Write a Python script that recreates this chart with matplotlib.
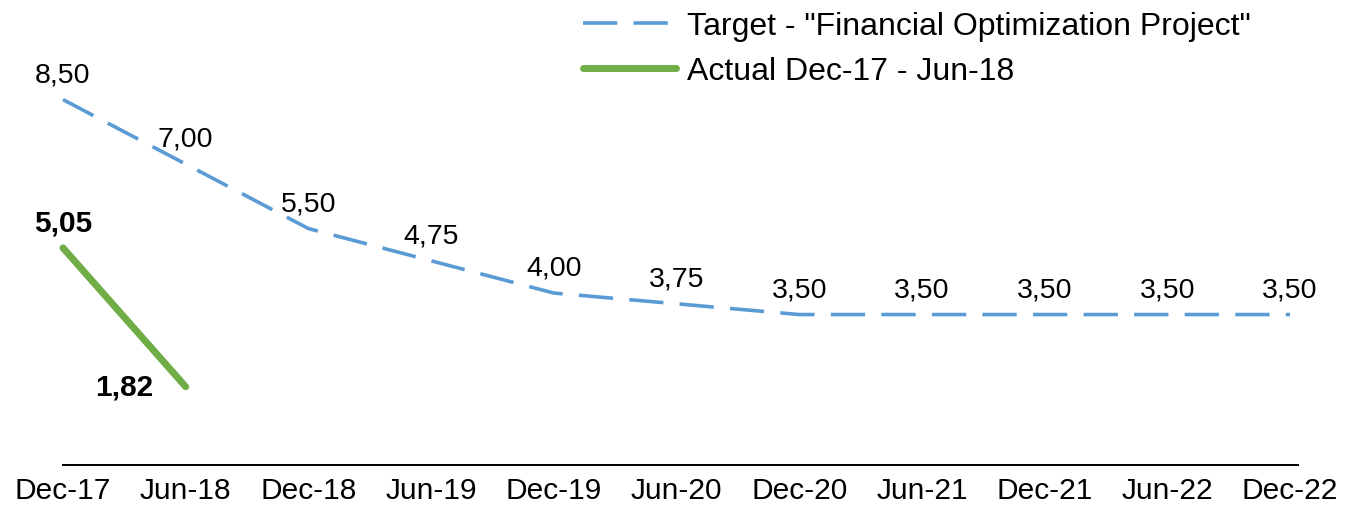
import matplotlib.pyplot as plt

plt.rcParams['font.family'] = ['Liberation Sans', 'DejaVu Sans']

# ============================================================
# Data
# ============================================================

periods = ['Dec-17', 'Jun-18', 'Dec-18', 'Jun-19', 'Dec-19', 'Jun-20',
           'Dec-20', 'Jun-21', 'Dec-21', 'Jun-22', 'Dec-22']
target = [8.50, 7.00, 5.50, 4.75, 4.00, 3.75, 3.50, 3.50, 3.50, 3.50, 3.50]
actual = [5.05, 1.82]

target_label = 'Target - "Financial Optimization Project"'
actual_label = 'Actual Dec-17 - Jun-18'

blue = '#5B9BD5'
green = '#70AD47'
fs_tick = 21.5
fs_leg = 23
fs_lab = 20.5
fs_bold = 21.5

# ============================================================
# Figure
# ============================================================

W, H = 1355, 506
fig = plt.figure(figsize=(W / 100, H / 100), dpi=100)
ax = fig.add_axes([63 / W, 40 / H, (1298 - 63) / W, 466 / H])

x = list(range(len(periods)))

ax.plot(x, target, color=blue, lw=2.6, ls=(0, (9.5, 4.5)),
        dash_capstyle='butt', clip_on=False, label=target_label)
ax.plot(x[:len(actual)], actual, color=green, lw=5,
        solid_capstyle='round', clip_on=False, label=actual_label)

# labels for target (above)
for xi, v in zip(x, target):
    ax.annotate(f'{v:.2f}'.replace('.', ','), (xi, v), xytext=(0, 9),
                textcoords='offset points', ha='center', va='bottom',
                fontsize=fs_lab)

# labels for actual
ax.annotate(f'{actual[0]:.2f}'.replace('.', ','), (x[0], actual[0]),
            xytext=(0, 8), textcoords='offset points', ha='center',
            va='bottom', fontsize=fs_bold, fontweight='bold')
ax.annotate(f'{actual[1]:.2f}'.replace('.', ','), (x[1], actual[1]),
            xytext=(-23, 0), textcoords='offset points', ha='right',
            va='center', fontsize=fs_bold, fontweight='bold')

ax.set_xlim(0, 10.065)
ax.set_ylim(0, 10.84)
ax.set_xticks(x)
ax.set_xticklabels(periods, fontsize=fs_tick)
ax.tick_params(axis='x', length=0, pad=8)
ax.set_yticks([])

for side in ['top', 'right', 'left']:
    ax.spines[side].set_visible(False)
ax.spines['bottom'].set_linewidth(1.4)

fig.legend(loc='upper left', bbox_to_anchor=(583 / W, 1 - 12 / H),
           frameon=False, fontsize=fs_leg, handlelength=2.9,
           handletextpad=0.37, labelspacing=0.48, borderpad=0,
           borderaxespad=0)

fig.savefig('out.png', dpi=100)
